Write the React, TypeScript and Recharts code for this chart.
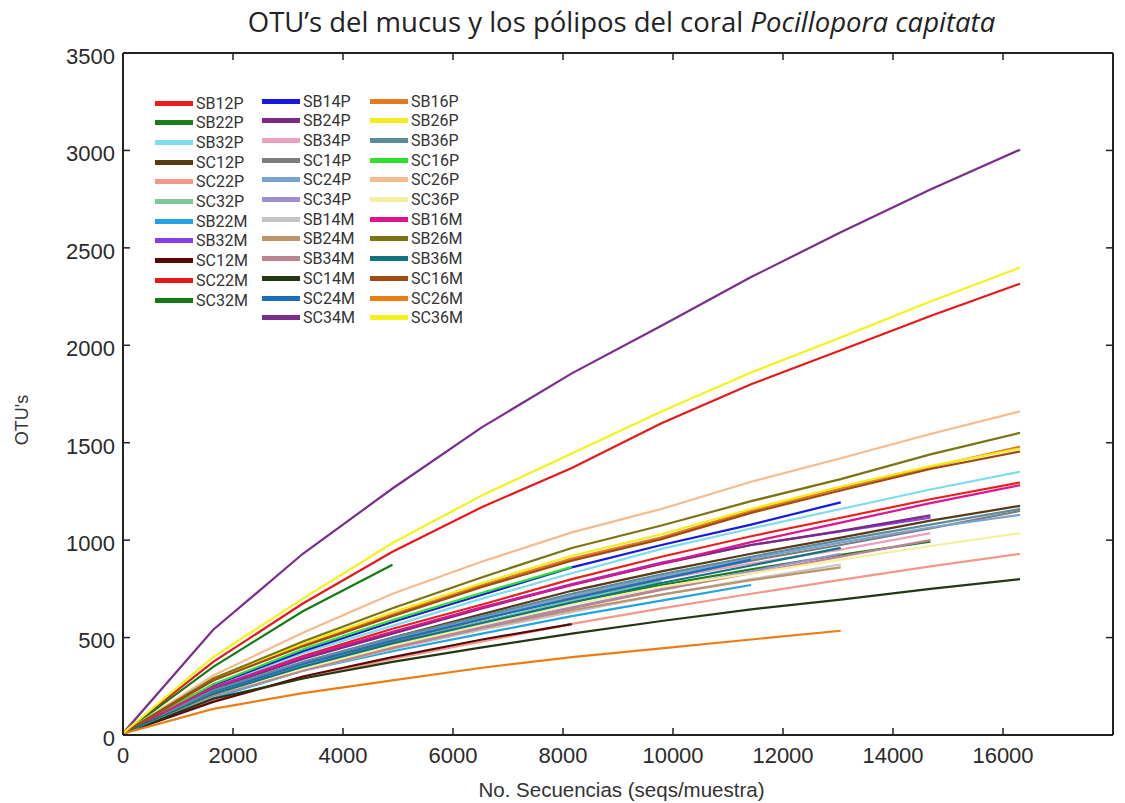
import { LineChart, Line, XAxis, YAxis, ReferenceLine } from "recharts"

// sampling depths of the rarefaction (seqs per sample)
const depths = [10, 1640, 3270, 4900, 6530, 8160, 9790, 11420, 13050, 14680, 16310]
const xTicks = [0, 2000, 4000, 6000, 8000, 10000, 12000, 14000, 16000]
const yTicks = [0, 500, 1000, 1500, 2000, 2500, 3000, 3500]

// observed OTUs per depth, null once a sample has no more sequences
const sb12p = [10, 245, 405, 545, 670, 800, 915, 1020, 1115, 1210, 1296]
const sb22p = [10, 215, 350, 470, 580, 680, 770, 850, 925, 992, null]
const sb32p = [10, 250, 420, 560, 700, 830, 955, 1060, 1160, 1260, 1351]
const sc12p = [10, 225, 370, 500, 620, 740, 840, 930, 1013, 1100, 1176]
const sc22p = [9, 175, 290, 390, 480, 570, 650, 725, 796, 865, 930]
const sc32p = [10, 215, 355, 470, 580, 690, 790, null, null, null, null]
const sb22m = [9, 190, 330, 430, 520, 610, 690, 770, null, null, null]
const sb32m = [10, 240, 395, 525, 655, 775, 885, 975, 1045, 1115, null]
const sc12m = [9, 170, 300, 400, 490, 569, null, null, null, null, null]
const sc22m = [12, 375, 675, 940, 1170, 1370, 1600, 1800, 1975, 2150, 2316]
const sc32m = [11, 350, 635, 874, null, null, null, null, null, null, null]
const sb14p = [10, 255, 430, 580, 720, 860, 975, 1080, 1194, null, null]
const sb24p = [10, 235, 390, 520, 650, 770, 878, 975, 1048, 1127, null]
const sb34p = [10, 225, 365, 490, 600, 710, 800, 880, 951, 1036, null]
const sc14p = [10, 215, 355, 480, 595, 705, 805, 895, 975, 1060, 1150]
const sc24p = [10, 220, 360, 490, 600, 715, 815, 905, 987, 1065, 1130]
const sc34p = [10, 205, 340, 455, 560, 655, 750, 840, 930, null, null]
const sb14m = [9, 200, 330, 440, 540, 630, 720, 800, 875, null, null]
const sb24m = [9, 210, 340, 450, 550, 640, 720, 795, 860, null, null]
const sb34m = [10, 200, 330, 445, 550, 650, 745, 830, 915, 1000, null]
const sc14m = [8, 186, 290, 375, 450, 520, 585, 645, 695, 750, 800]
const sc24m = [10, 220, 365, 485, 595, 700, 800, 900, null, null, null]
const sc34m = [12, 540, 930, 1265, 1580, 1856, 2100, 2350, 2580, 2800, 3004]
const sb16p = [10, 285, 460, 620, 770, 905, 1015, 1150, 1265, 1375, 1480]
const sb26p = [10, 290, 470, 630, 780, 920, 1030, 1160, 1275, 1380, 1470]
const sb36p = [10, 230, 375, 500, 610, 725, 825, 915, 1000, 1080, 1160]
const sc16p = [10, 260, 440, 590, 730, 863, null, null, null, null, null]
const sc26p = [10, 305, 525, 725, 890, 1040, 1160, 1300, 1420, 1545, 1661]
const sc36p = [10, 210, 340, 460, 565, 670, 760, 830, 900, 970, 1036]
const sb16m = [10, 245, 400, 530, 655, 770, 880, 990, 1090, 1190, 1282]
const sb26m = [10, 290, 480, 650, 810, 960, 1075, 1200, 1313, 1440, 1551]
const sb36m = [10, 210, 350, 470, 575, 680, 780, 870, 960, null, null]
const sc16m = [10, 280, 455, 610, 760, 895, 1005, 1140, 1255, 1365, 1455]
const sc26m = [8, 134, 215, 280, 345, 400, 445, 490, 535, null, null]
const sc36m = [12, 400, 700, 985, 1230, 1445, 1660, 1860, 2040, 2225, 2399]

const series = [
  { name: "SB12P", color: "#ee1c1c", values: sb12p },
  { name: "SB22P", color: "#1a7d1a", values: sb22p },
  { name: "SB32P", color: "#7ddcee", values: sb32p },
  { name: "SC12P", color: "#5a3a14", values: sc12p },
  { name: "SC22P", color: "#f2998a", values: sc22p },
  { name: "SC32P", color: "#7cc89a", values: sc32p },
  { name: "SB22M", color: "#23a3e6", values: sb22m },
  { name: "SB32M", color: "#8a3ee6", values: sb32m },
  { name: "SC12M", color: "#5c0606", values: sc12m },
  { name: "SC22M", color: "#e61818", values: sc22m },
  { name: "SC32M", color: "#147a14", values: sc32m },
  { name: "SB14P", color: "#1818e0", values: sb14p },
  { name: "SB24P", color: "#7a2a80", values: sb24p },
  { name: "SB34P", color: "#eba0bd", values: sb34p },
  { name: "SC14P", color: "#7d7d7d", values: sc14p },
  { name: "SC24P", color: "#7ba2cf", values: sc24p },
  { name: "SC34P", color: "#a08fcf", values: sc34p },
  { name: "SB14M", color: "#c4c4c4", values: sb14m },
  { name: "SB24M", color: "#bb946c", values: sb24m },
  { name: "SB34M", color: "#bd8592", values: sb34m },
  { name: "SC14M", color: "#233812", values: sc14m },
  { name: "SC24M", color: "#1c6fb8", values: sc24m },
  { name: "SC34M", color: "#7b2d8c", values: sc34m },
  { name: "SB16P", color: "#e5791e", values: sb16p },
  { name: "SB26P", color: "#f2ec1c", values: sb26p },
  { name: "SB36P", color: "#5b8c9c", values: sb36p },
  { name: "SC16P", color: "#2fe02f", values: sc16p },
  { name: "SC26P", color: "#f6ba8b", values: sc26p },
  { name: "SC36P", color: "#f6eea0", values: sc36p },
  { name: "SB16M", color: "#e0148c", values: sb16m },
  { name: "SB26M", color: "#7a7412", values: sb26m },
  { name: "SB36M", color: "#0f7480", values: sb36m },
  { name: "SC16M", color: "#a14b12", values: sc16m },
  { name: "SC26M", color: "#ea7d14", values: sc26m },
  { name: "SC36M", color: "#f5f21a", values: sc36m },
]

const rows = depths.map((depth, i) => {
  const row: Record<string, number | null> = { depth }
  series.forEach((s) => {
    row[s.name] = s.values[i] ?? null
  })
  return row
})

const W = 1125
const H = 803
const TOP = 53
const LEFT = 123
const RIGHT = 1113
const BOTTOM = 735
const TICK = 7
const INK = "#222"
const tickFont = "'Liberation Sans', Arial, sans-serif"

// y ticks point inward on both the left and right frame
function YTick(props: any) {
  const { x, y, payload } = props
  return (
    <g>
      <line x1={LEFT} x2={LEFT + TICK} y1={y} y2={y} stroke={INK} strokeWidth={1.5} />
      <line x1={RIGHT - TICK} x2={RIGHT} y1={y} y2={y} stroke={INK} strokeWidth={1.5} />
      <text x={x} y={y + 3} dy="0.355em" textAnchor="end" fontSize={22} fontFamily={tickFont} fill="#2a2a2a">
        {payload.value}
      </text>
    </g>
  )
}

function XTick(props: any) {
  const { x, y, payload } = props
  return (
    <g>
      <line x1={x} x2={x} y1={BOTTOM} y2={BOTTOM - TICK} stroke={INK} strokeWidth={1.5} />
      <line x1={x} x2={x} y1={TOP} y2={TOP + TICK} stroke={INK} strokeWidth={1.5} />
      <text x={x} y={y} dy="0.71em" textAnchor="middle" fontSize={22} fontFamily={tickFont} fill="#2a2a2a">
        {payload.value}
      </text>
    </g>
  )
}

// three column legend drawn over the upper left of the plot
function LegendGrid() {
  const cols = [
    { left: 155, top: 103, items: series.slice(0, 11) },
    { left: 262, top: 101, items: series.slice(11, 23) },
    { left: 370, top: 101, items: series.slice(23) },
  ]
  return (
    <>
      {cols.map((c) =>
        c.items.map((s, i) => (
          <div
            key={s.name}
            style={{
              position: "absolute",
              left: c.left,
              top: c.top + i * 19.7 - 10,
              height: 20,
              display: "flex",
              alignItems: "center",
              whiteSpace: "nowrap",
            }}
          >
            <span style={{ display: "inline-block", width: 38, height: 5, background: s.color, marginRight: 3 }} />
            <span style={{ fontFamily: "Roboto, sans-serif", fontSize: 16, color: "#333" }}>{s.name}</span>
          </div>
        ))
      )}
    </>
  )
}

export default function App() {
  return (
    <div style={{ position: "absolute", left: 0, top: 0, width: W, height: H, background: "#fff" }}>
      <div
        style={{
          position: "absolute",
          left: 0,
          width: W,
          top: 3,
          textAlign: "center",
          paddingLeft: 118,
          boxSizing: "border-box",
          fontFamily: "'Open Sans', sans-serif",
          fontSize: 27.5,
          color: "#222",
          whiteSpace: "nowrap",
        }}
      >
        OTU’s del mucus y los pólipos del coral <i>Pocillopora capitata</i>
      </div>
      <LineChart width={W} height={H} data={rows} margin={{ top: TOP, right: W - RIGHT, bottom: 0, left: 0 }}>
        <XAxis
          dataKey="depth"
          type="number"
          domain={[0, 18000]}
          ticks={xTicks}
          interval={0}
          height={H - BOTTOM}
          tickSize={0}
          tickMargin={12}
          tickLine={false}
          tick={<XTick />}
          axisLine={{ stroke: INK, strokeWidth: 2 }}
          allowDataOverflow
        />
        <YAxis
          type="number"
          domain={[0, 3500]}
          ticks={yTicks}
          interval={0}
          width={LEFT}
          tickSize={0}
          tickMargin={8}
          tickLine={false}
          tick={<YTick />}
          axisLine={{ stroke: INK, strokeWidth: 2 }}
          allowDataOverflow
        />
        <ReferenceLine y={3500} stroke={INK} strokeWidth={2} />
        <ReferenceLine x={18000} stroke={INK} strokeWidth={2} />
        {series.map((s) => (
          <Line
            key={s.name}
            dataKey={s.name}
            type="linear"
            stroke={s.color}
            strokeWidth={2.2}
            dot={false}
            activeDot={false}
            connectNulls={false}
            isAnimationActive={false}
          />
        ))}
      </LineChart>
      <LegendGrid />
      <div
        style={{
          position: "absolute",
          left: 0,
          width: W,
          top: 778,
          paddingLeft: 118,
          boxSizing: "border-box",
          textAlign: "center",
          fontFamily: "'Liberation Sans', Arial, sans-serif",
          fontSize: 20.5,
          color: "#333",
        }}
      >
        No. Secuencias (seqs/muestra)
      </div>
      <div
        style={{
          position: "absolute",
          left: 22,
          top: 420,
          transform: "translate(-50%, -50%) rotate(-90deg)",
          fontFamily: "'Liberation Sans', Arial, sans-serif",
          fontSize: 18,
          color: "#333",
          whiteSpace: "nowrap",
        }}
      >
        OTU's
      </div>
    </div>
  )
}
